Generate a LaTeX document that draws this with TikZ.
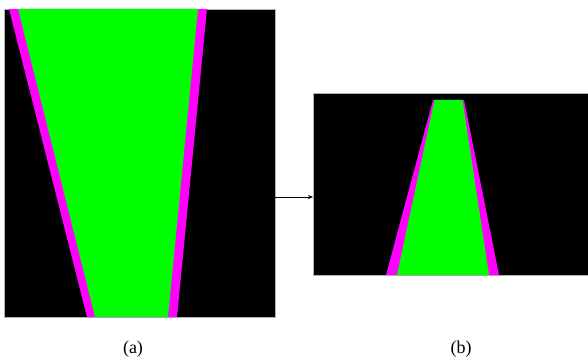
\documentclass[tikz,border=0pt]{standalone}
\usepackage{fontspec}
\setmainfont{Liberation Serif}
\usepackage{xcolor}
\usepackage{tikz}
\usetikzlibrary{arrows.meta}

\definecolor{bandmag}{RGB}{255,0,255}
\definecolor{bandgreen}{RGB}{0,255,0}

\begin{document}
\begin{tikzpicture}[x=1pt,y=-1pt]
\useasboundingbox (0,0) rectangle (588,358);
% (a) large view
\filldraw[black,draw=gray!60,very thin] (4,9) rectangle (275,317);
\fill[bandmag] (9,9) -- (207,9) -- (177,317) -- (87,317) -- cycle;
\fill[bandgreen] (18,9) -- (198,9) -- (168,317) -- (95,317) -- cycle;
% (b) small view
\filldraw[black,draw=gray!60,very thin] (313,93) rectangle (588,275);
\fill[bandmag] (433,100) -- (464,100) -- (499,275) -- (386,275) -- cycle;
\fill[bandgreen] (434.5,100) -- (462.5,100) -- (489,275) -- (397,275) -- cycle;
% arrow between views
\coordinate (outa) at (275,197);
\coordinate (inb) at (313,197);
\draw[thin,-{Stealth[length=5pt,width=4pt]}] (outa) -- (inb);
\node (capa) at (133,349) {\fontsize{18}{21}\selectfont (a)};
\node (capb) at (461,349) {\fontsize{18}{21}\selectfont (b)};
\end{tikzpicture}
\end{document}
